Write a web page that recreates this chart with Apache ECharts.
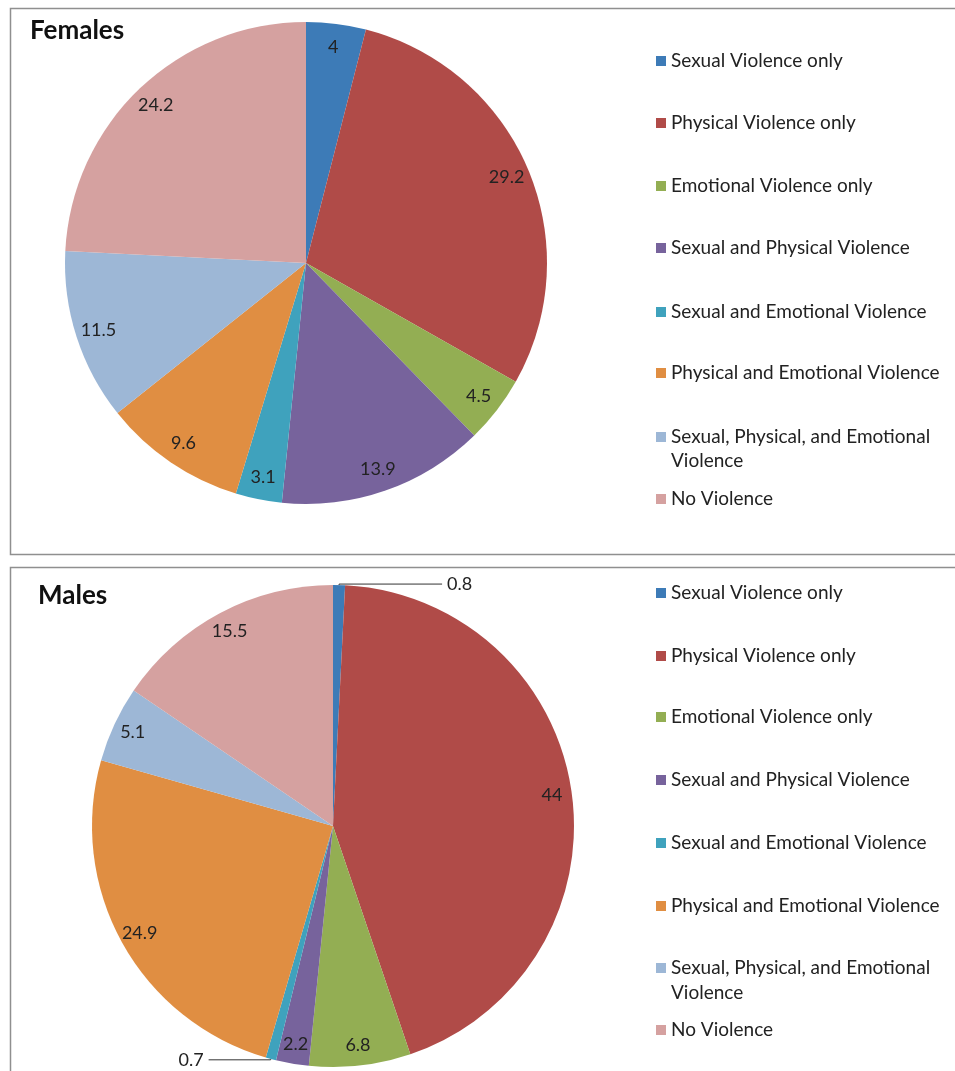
<!DOCTYPE html>
<html>
<head>
<meta charset="utf-8">
<script src="https://cdn.jsdelivr.net/npm/echarts@6/dist/echarts.min.js"></script>
<style>
  html, body { margin: 0; padding: 0; background: #fff; }
  #chart { width: 955px; height: 1071px; }
</style>
</head>
<body>
<div id="chart"></div>
<script>
const categories = [
  "Sexual Violence only",
  "Physical Violence only",
  "Emotional Violence only",
  "Sexual and Physical Violence",
  "Sexual and Emotional Violence",
  "Physical and Emotional Violence",
  "Sexual, Physical, and Emotional Violence",
  "No Violence",
];
const femaleValues = [4, 29.2, 4.5, 13.9, 3.1, 9.6, 11.5, 24.2];
const maleValues = [0.8, 44, 6.8, 2.2, 0.7, 24.9, 5.1, 15.5];

const colors = ["#3d7bb7", "#b04b48", "#93ae53", "#77639c", "#3fa2bd", "#e08e42", "#9db7d6", "#d5a1a0"];

// legend row centres (px) and the wrapped legend entry
const femaleLegendY = [61, 123, 186, 248, 312, 373, 437, 499];
const maleLegendY = [593, 656, 717, 780, 843, 906, 968, 1030];
const wrappedName = "Sexual, Physical, and Emotional Violence";

const FONT = "Lato, 'Open Sans', sans-serif";
const LEGEND_SIZE = 19;
const R = 241;

const chart = echarts.init(document.getElementById("chart"), null, { renderer: "canvas" });

const legendFor = (rowsY) =>
  categories.map((name, i) => ({
    orient: "vertical",
    left: 656,
    top: rowsY[i] - 11,
    padding: 0,
    itemWidth: 10,
    itemHeight: 10,
    icon: "rect",
    selectedMode: false,
    data: [{ name, itemStyle: { color: colors[i] } }],
    formatter: (n) => (n === wrappedName ? "Sexual, Physical, and Emotional" : n),
    textStyle: { fontFamily: FONT, fontSize: LEGEND_SIZE, color: "#222", lineHeight: 22 },
  }));

// small slices that get a leader line instead of an inside label
const maleOutside = { 0: 103, 4: 62 };

const pieFor = (values, center, labelR, outside) => {
  const data = categories.map((name, i) => ({ name, value: values[i], itemStyle: { color: colors[i] } }));
  const labelData = categories.map((name, i) => {
    const item = { name, value: values[i] };
    if (outside && outside[i] !== undefined) {
      item.label = { position: "outside" };
      item.labelLine = { show: true, length: 1, length2: outside[i], lineStyle: { color: "#333", width: 1 } };
    }
    return item;
  });
  return [
    {
      type: "pie",
      center,
      radius: R,
      startAngle: 90,
      silent: true,
      animation: false,
      label: { show: false },
      labelLine: { show: false },
      data,
    },
    {
      type: "pie",
      center,
      radius: [labelR * 2 - R, R],
      startAngle: 90,
      silent: true,
      animation: false,
      avoidLabelOverlap: false,
      itemStyle: { color: "rgba(0,0,0,0)" },
      label: {
        show: true,
        position: "inside",
        formatter: "{c}",
        fontFamily: FONT,
        fontSize: 18,
        color: "#222",
      },
      labelLine: { show: false },
      data: labelData,
    },
  ];
};

chart.setOption({
  backgroundColor: "#fff",
  animation: false,
  title: [
    { text: "Females", left: 30, top: 16, padding: 0, textStyle: { fontFamily: FONT, fontSize: 26, fontWeight: "bold", color: "#111", lineHeight: 30 } },
    { text: "Males", left: 38, top: 581, padding: 0, textStyle: { fontFamily: FONT, fontSize: 26, fontWeight: "bold", color: "#111", lineHeight: 30 } },
  ],
  legend: [...legendFor(femaleLegendY), ...legendFor(maleLegendY)],
  series: [
    ...pieFor(femaleValues, [306, 263], 215, null),
    ...pieFor(maleValues, [333, 826], 218, maleOutside),
  ],
  graphic: [
    { type: "rect", silent: true, z: -1, shape: { x: 10.5, y: 8.5, width: 960, height: 546 }, style: { fill: "none", stroke: "#8f8f8f", lineWidth: 1.5 } },
    { type: "rect", silent: true, z: -1, shape: { x: 10.5, y: 567.5, width: 960, height: 520 }, style: { fill: "none", stroke: "#8f8f8f", lineWidth: 1.5 } },
    { type: "text", x: 671, y: 461, style: { text: "Violence", font: LEGEND_SIZE + "px " + FONT, fill: "#222", verticalAlign: "middle" } },
    { type: "text", x: 671, y: 993, style: { text: "Violence", font: LEGEND_SIZE + "px " + FONT, fill: "#222", verticalAlign: "middle" } },
  ],
});
</script>
</body>
</html>
